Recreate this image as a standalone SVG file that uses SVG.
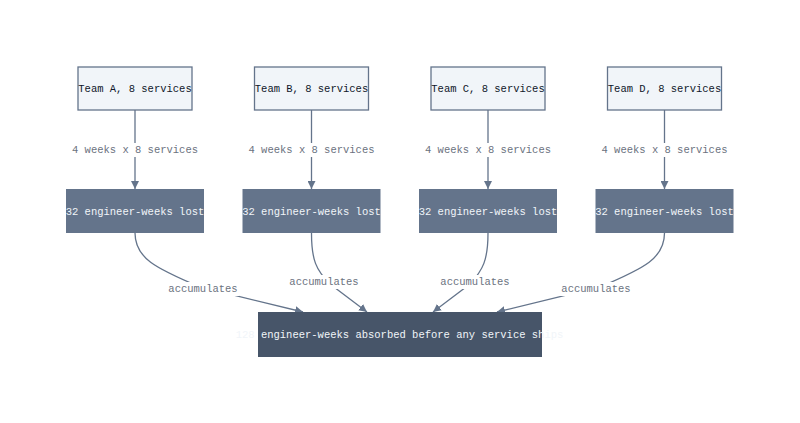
<svg xmlns="http://www.w3.org/2000/svg" width="800" height="423" viewBox="0 0 800 423">
<defs>
<marker id="arr" viewBox="0 0 10 10" refX="10" refY="5" markerWidth="8" markerHeight="8" markerUnits="userSpaceOnUse" orient="auto">
<path d="M0,0 L10,5 L0,10 z" fill="#64748b"/>
</marker>
<style>
text{font-family:"Liberation Mono","DejaVu Sans Mono",monospace;font-size:10.5px;text-anchor:middle;dominant-baseline:central}
.top rect{fill:#f1f5f9;stroke:#64748b;stroke-width:1.3}
.top text{fill:#0f172a}
.mid rect{fill:#64748b}
.mid text{fill:#f1f5f9}
.bot rect{fill:#475569}
.bot text{fill:#f1f5f9}
.edge{fill:none;stroke:#64748b;stroke-width:1.3;marker-end:url(#arr)}
.lbg{fill:#ffffff}
.lbl{fill:#6b7280}
</style>
</defs>
<rect width="800" height="423" fill="#ffffff"/>
<g id="connectors">
<path class="edge" d="M135,110 L135,189"/>
<path class="edge" d="M311.5,110 L311.5,189"/>
<path class="edge" d="M488,110 L488,189"/>
<path class="edge" d="M664.5,110 L664.5,189"/>
<path class="edge" d="M135,233 C135,258 155,268 200,287 L303,312"/>
<path class="edge" d="M311.5,233 C311.5,260 316,270 330,284 L367,312"/>
<path class="edge" d="M488,233 C488,260 483,270 470,284 L433,312"/>
<path class="edge" d="M664.5,233 C664.5,258 645,268 600,287 L497,312"/>
<rect class="lbg" x="70" y="143" width="130" height="14"/>
<text class="lbl" x="135" y="150">4 weeks x 8 services</text>
<rect class="lbg" x="246.5" y="143" width="130" height="14"/>
<text class="lbl" x="311.5" y="150">4 weeks x 8 services</text>
<rect class="lbg" x="423" y="143" width="130" height="14"/>
<text class="lbl" x="488" y="150">4 weeks x 8 services</text>
<rect class="lbg" x="599.5" y="143" width="130" height="14"/>
<text class="lbl" x="664.5" y="150">4 weeks x 8 services</text>
<rect class="lbg" x="167" y="282" width="72" height="14"/>
<text class="lbl" x="203" y="289">accumulates</text>
<rect class="lbg" x="288" y="275" width="72" height="14"/>
<text class="lbl" x="324" y="282">accumulates</text>
<rect class="lbg" x="439" y="275" width="72" height="14"/>
<text class="lbl" x="475" y="282">accumulates</text>
<rect class="lbg" x="560" y="282" width="72" height="14"/>
<text class="lbl" x="596" y="289">accumulates</text>
</g>
<g id="teamA" class="top"><rect x="78" y="67" width="114" height="43"/><text x="135" y="89">Team A, 8 services</text></g>
<g id="teamB" class="top"><rect x="254.5" y="67" width="114" height="43"/><text x="311.5" y="89">Team B, 8 services</text></g>
<g id="teamC" class="top"><rect x="431" y="67" width="114" height="43"/><text x="488" y="89">Team C, 8 services</text></g>
<g id="teamD" class="top"><rect x="607.5" y="67" width="114" height="43"/><text x="664.5" y="89">Team D, 8 services</text></g>
<g id="lostA" class="mid"><rect x="66" y="189" width="138" height="44"/><text x="135" y="212">32 engineer-weeks lost</text></g>
<g id="lostB" class="mid"><rect x="242.5" y="189" width="138" height="44"/><text x="311.5" y="212">32 engineer-weeks lost</text></g>
<g id="lostC" class="mid"><rect x="419" y="189" width="138" height="44"/><text x="488" y="212">32 engineer-weeks lost</text></g>
<g id="lostD" class="mid"><rect x="595.5" y="189" width="138" height="44"/><text x="664.5" y="212">32 engineer-weeks lost</text></g>
<g id="total" class="bot"><rect x="258" y="312" width="284" height="45"/><text x="399.5" y="335">128 engineer-weeks absorbed before any service ships</text></g>
</svg>
